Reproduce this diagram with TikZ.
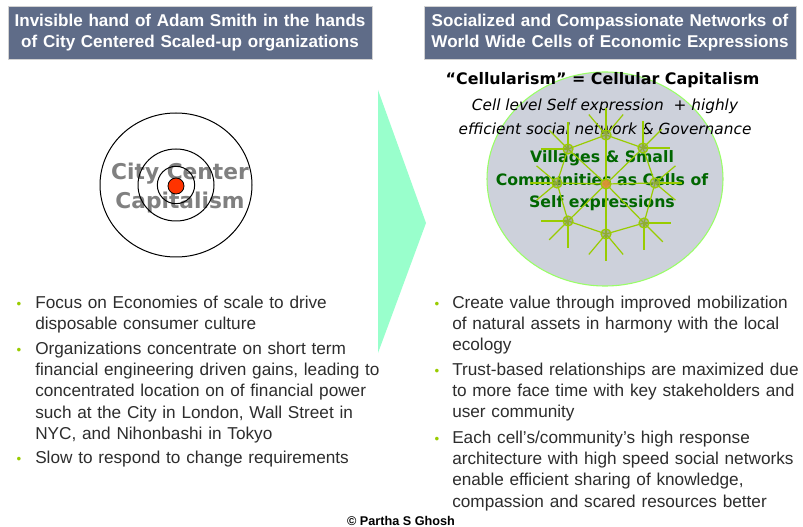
\documentclass[tikz,border=0pt]{standalone}
\usepackage{fontspec}
\setmainfont{Liberation Sans}
\newfontfamily\verdfont{DejaVu Sans}
\usetikzlibrary{positioning}

\definecolor{hdrblue}{RGB}{95,108,136}
\definecolor{mint}{RGB}{153,255,204}
\definecolor{cellgray}{RGB}{205,209,219}
\definecolor{rimgreen}{RGB}{153,255,102}
\definecolor{netgreen}{RGB}{153,204,0}
\definecolor{villagegreen}{RGB}{0,102,0}
\definecolor{textgray}{RGB}{45,45,45}
\definecolor{citygray}{RGB}{128,128,128}
\definecolor{dotred}{RGB}{255,51,0}
\definecolor{coreorange}{RGB}{226,140,60}

\tikzset{
	hdrbox/.style={fill=hdrblue, draw=gray!35, inner sep=0pt, align=center, text=white,
			font=\fontsize{12.8}{15.8}\selectfont\bfseries, minimum height=39.75pt},
	bulletdot/.style={text=netgreen, inner sep=0pt, anchor=base, font=\fontsize{10}{12}\selectfont},
	itemtext/.style={text=textgray, inner sep=0pt, anchor=base west, text width=285pt, align=left,
			font=\fontsize{12.9}{16}\selectfont},
	ring/.style={draw=black, line width=0.75pt},
	net/.style={netgreen, line width=0.9pt},
	cell/.style={circle, draw=netgreen, fill=gray!70!netgreen, fill opacity=0.55,
			minimum size=7.5pt, inner sep=0pt, line width=0.9pt}
}

\begin{document}
\begin{tikzpicture}[x=0.75pt, y=-0.75pt]
	% Canvas
	\path[use as bounding box, fill=white] (0,0) rectangle (803,527);

	% Header boxes
	\node[hdrbox, text width=273pt] (hdrleft) at (190,32.5) {Invisible hand of Adam Smith in the hands\\of City Centered Scaled-up organizations};
	\node[hdrbox, text width=279pt] (hdrright) at (610,32.5) {Socialized and Compassionate Networks of\\World Wide Cells of Economic Expressions};

	% Big arrow between the two halves
	\fill[mint] (378,90) -- (426,223) -- (378,353) -- cycle;

	% City centre target
	\node[text=citygray, align=center, font=\verdfont\bfseries\fontsize{16.3}{21.75}\selectfont] (citytext) at (180,188) {City Center\\Capitalism};
	\draw[ring] (176,185) ellipse [x radius=57pt, y radius=54pt];
	\draw[ring] (176,185) ellipse [x radius=28.5pt, y radius=27pt];
	\draw[ring] (176,185) circle [radius=14pt];
	\filldraw[fill=dotred, draw=black, line width=0.6pt] (176,186) circle [radius=6pt];

	% Cell network
	\filldraw[fill=cellgray, draw=rimgreen, line width=0.8pt] (605,179) ellipse [x radius=88.5pt, y radius=80.25pt];
	\node[font=\verdfont\bfseries\fontsize{11.9}{14}\selectfont] (celltitle) at (602.5,80) {“Cellularism” = Cellular Capitalism};
	\node[align=center, font=\verdfont\itshape\fontsize{11.5}{18}\selectfont] (cellsub) at (605,117) {Cell level Self expression~ + highly\\efficient social network \& Governance};
	\node[align=center, text=villagegreen, font=\verdfont\bfseries\fontsize{11.8}{16.9}\selectfont] (celltext) at (602,181) {Villages \& Small\\Communities as Cells of\\Self expressions};

	\foreach \c/\px/\py in {ct/606/184, cn/606/135, cnw/568/149, cne/643/148, cw/557/183,
			ce/655/183, csw/568/221, cs/606/234, cse/644/223}
		\coordinate (\c) at (\px,\py);

	% spokes through the core cell
	\draw[net] (cn) -- (ct) -- (cs);
	\draw[net] (cw) -- (ct) -- (ce);
	\draw[net] (cnw) -- (ct) -- (cse);
	\draw[net] (cne) -- (ct) -- (csw);
	% outer ring
	\draw[net] (cn) -- (cne) -- (ce) -- (cse) -- (cs) -- (csw) -- (cw) -- (cnw) -- cycle;
	% rays reaching out of the ring
	\foreach \c/\a in {cn/50, cn/90, cn/130, cnw/90, cnw/135, cnw/180, cne/0, cne/45, cne/90,
			cw/140, cw/180, cw/220, ce/0, ce/40, ce/320, csw/180, csw/225, csw/270,
			cse/0, cse/315, cse/270, cs/230, cs/270, cs/310}
		\draw[net] (\c) -- ++(\a:20pt);

	\foreach \c in {cn, cnw, cne, cw, ce, csw, cs, cse}
		\node[cell] (\c dot) at (\c) {};
	\node[cell, fill=coreorange, fill opacity=0.85] (ctdot) at (ct) {};

	% Left bullets
	\node[bulletdot] (lb1) at (19,308) {\textbullet};
	\node[itemtext] (li1) at (35,308) {Focus on Economies of scale to drive\\disposable consumer culture};
	\node[bulletdot] (lb2) at (19,354) {\textbullet};
	\node[itemtext] (li2) at (35,354) {Organizations concentrate on short term\\financial engineering driven gains, leading to\\concentrated location on of financial power\\such at the City in London, Wall Street in\\NYC, and Nihonbashi in Tokyo};
	\node[bulletdot] (lb3) at (19,463) {\textbullet};
	\node[itemtext] (li3) at (35,463) {Slow to respond to change requirements};

	% Right bullets
	\node[bulletdot] (rb1) at (437,308) {\textbullet};
	\node[itemtext] (ri1) at (452,308) {Create value through improved mobilization\\of natural assets in harmony with the local\\ecology};
	\node[bulletdot] (rb2) at (437,375) {\textbullet};
	\node[itemtext] (ri2) at (452,375) {Trust-based relationships are maximized due\\to more face time with key stakeholders and\\user community};
	\node[bulletdot] (rb3) at (437,443) {\textbullet};
	\node[itemtext] (ri3) at (452,443) {Each cell’s/community’s high response\\architecture with high speed social networks\\enable efficient sharing of knowledge,\\compassion and scared resources better};

	% Credit
	\node[font=\fontsize{9.5}{11}\selectfont\bfseries] (credit) at (401,521) {\textcopyright\ Partha S Ghosh};
\end{tikzpicture}
\end{document}
